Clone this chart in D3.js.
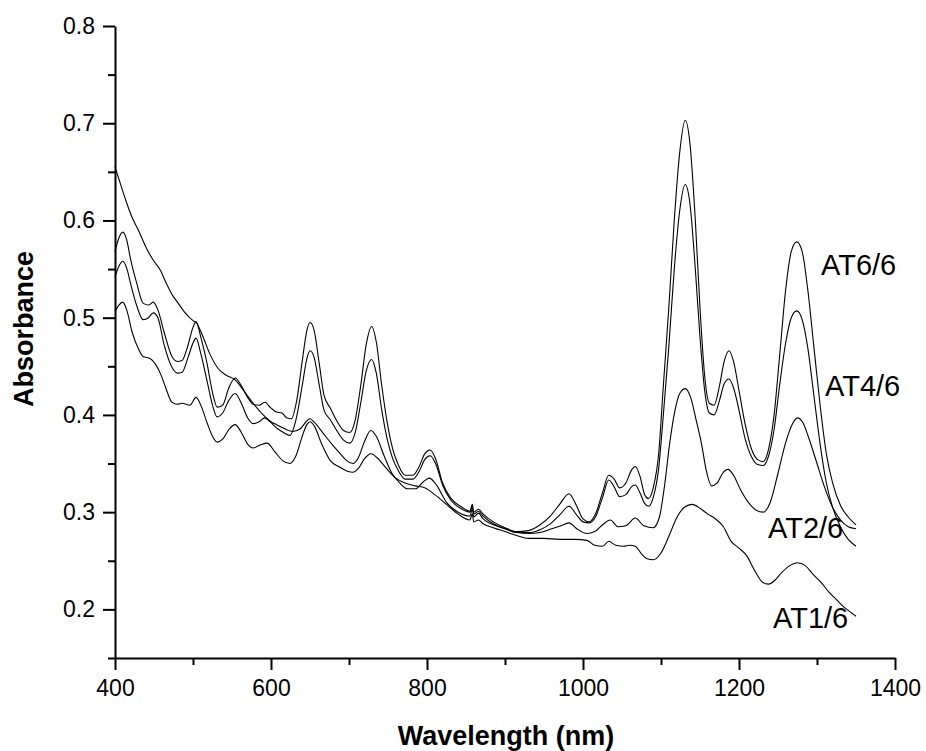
<!DOCTYPE html>
<html>
<head>
<meta charset="utf-8">
<script src="https://cdn.jsdelivr.net/npm/d3@7"></script>
<style>
  html, body { margin: 0; padding: 0; background: #fff; }
  svg { display: block; font-family: "Liberation Sans", Arial, sans-serif; }
</style>
</head>
<body>
<svg id="chart" width="926" height="751"></svg>
<script>
// ---------- DATA ----------
const xTicksMajor = [400, 600, 800, 1000, 1200, 1400];
const xTicksMinor = [500, 700, 900, 1100, 1300];
const yTicksMajor = [0.2, 0.3, 0.4, 0.5, 0.6, 0.7, 0.8];
const yTicksMinor = [0.15, 0.25, 0.35, 0.45, 0.55, 0.65, 0.75];
const seriesNames = ["AT6/6", "AT4/6", "AT2/6", "AT1/6"];

const wlAT6 = [400,405,410,415,420,428,436,443,449,455,463,473,480,486,493,500,504,510,518,525,531,538,546,554,562,570,577,585,592,600,607,614,620,626,633,640,646,650,655,662,668,676,685,693,701,708,715,722,729,735,742,749,756,763,772,782,790,797,804,811,820,830,845,855,858,860,866,872,885,900,915,930,945,958,970,982,992,1000,1008,1016,1025,1033,1040,1047,1055,1062,1067,1073,1079,1084,1090,1097,1103,1110,1117,1124,1131,1137,1144,1150,1156,1162,1168,1175,1181,1187,1193,1200,1208,1216,1224,1231,1238,1245,1252,1260,1267,1274,1281,1288,1296,1304,1312,1320,1330,1340,1350];
const absAT6 = [0.568,0.582,0.588,0.58,0.56,0.535,0.515,0.513,0.516,0.508,0.485,0.46,0.455,0.456,0.47,0.49,0.496,0.48,0.453,0.423,0.408,0.41,0.428,0.438,0.43,0.418,0.411,0.41,0.413,0.407,0.403,0.402,0.397,0.396,0.415,0.455,0.487,0.495,0.488,0.452,0.42,0.407,0.393,0.384,0.382,0.395,0.43,0.472,0.491,0.475,0.43,0.392,0.365,0.349,0.338,0.338,0.347,0.36,0.364,0.355,0.33,0.315,0.305,0.301,0.308,0.3,0.303,0.298,0.29,0.284,0.28,0.281,0.287,0.296,0.308,0.319,0.306,0.293,0.29,0.298,0.32,0.338,0.334,0.325,0.33,0.343,0.347,0.337,0.318,0.314,0.325,0.36,0.43,0.51,0.6,0.67,0.703,0.68,0.6,0.51,0.44,0.412,0.41,0.43,0.455,0.466,0.455,0.425,0.39,0.365,0.354,0.352,0.365,0.4,0.46,0.53,0.568,0.578,0.568,0.53,0.47,0.41,0.36,0.33,0.307,0.295,0.287];

const wlAT4 = [400,405,410,415,420,428,436,443,449,455,463,473,480,486,494,500,504,510,518,525,531,538,546,554,562,570,577,585,592,600,608,616,624,632,640,646,650,655,662,668,676,685,693,701,708,715,722,729,735,742,749,756,763,772,782,790,797,804,811,820,830,845,855,858,860,866,872,885,900,915,930,945,958,970,982,992,1000,1008,1016,1025,1033,1040,1047,1055,1062,1067,1073,1079,1084,1090,1097,1103,1110,1117,1124,1131,1137,1144,1150,1156,1162,1168,1175,1181,1187,1193,1200,1208,1216,1224,1231,1238,1245,1252,1260,1267,1274,1281,1288,1296,1304,1312,1320,1330,1340,1350];
const absAT4 = [0.542,0.553,0.558,0.551,0.535,0.512,0.498,0.5,0.505,0.5,0.472,0.449,0.443,0.444,0.46,0.474,0.479,0.463,0.435,0.41,0.398,0.402,0.415,0.422,0.412,0.397,0.391,0.393,0.397,0.392,0.386,0.382,0.379,0.395,0.43,0.458,0.466,0.46,0.43,0.405,0.395,0.383,0.374,0.371,0.382,0.412,0.445,0.457,0.443,0.405,0.375,0.355,0.343,0.334,0.334,0.342,0.354,0.358,0.35,0.328,0.313,0.303,0.3,0.306,0.298,0.301,0.296,0.288,0.283,0.279,0.279,0.282,0.288,0.297,0.306,0.297,0.29,0.289,0.295,0.315,0.333,0.326,0.316,0.318,0.326,0.328,0.32,0.309,0.306,0.315,0.345,0.4,0.47,0.55,0.61,0.637,0.618,0.55,0.48,0.425,0.402,0.4,0.415,0.432,0.437,0.428,0.405,0.375,0.357,0.349,0.348,0.358,0.385,0.43,0.475,0.5,0.507,0.498,0.47,0.42,0.37,0.33,0.305,0.285,0.272,0.265];

const wlAT2 = [400,408,415,422,430,440,450,458,466,473,480,490,500,505,512,522,532,542,554,565,577,590,600,607,617,628,638,645,650,656,667,678,689,697,705,712,720,728,735,745,755,765,775,785,795,803,812,825,840,855,858,860,866,872,885,900,915,930,945,960,972,982,992,1005,1015,1025,1035,1045,1055,1067,1078,1090,1098,1105,1111,1118,1124,1131,1138,1145,1152,1158,1165,1172,1179,1186,1193,1202,1212,1222,1231,1240,1250,1260,1268,1275,1282,1290,1300,1310,1320,1330,1340,1350];
const absAT2 = [0.655,0.635,0.618,0.603,0.59,0.572,0.558,0.549,0.535,0.524,0.516,0.505,0.497,0.494,0.482,0.462,0.448,0.441,0.436,0.425,0.412,0.4,0.393,0.39,0.386,0.383,0.386,0.393,0.396,0.392,0.381,0.37,0.36,0.353,0.35,0.356,0.373,0.384,0.378,0.358,0.34,0.33,0.324,0.324,0.331,0.335,0.328,0.31,0.3,0.296,0.303,0.295,0.299,0.293,0.287,0.283,0.279,0.278,0.279,0.283,0.286,0.289,0.283,0.278,0.28,0.287,0.292,0.285,0.286,0.294,0.286,0.284,0.295,0.33,0.37,0.405,0.422,0.427,0.418,0.395,0.37,0.343,0.327,0.33,0.34,0.344,0.338,0.323,0.31,0.302,0.3,0.31,0.34,0.372,0.39,0.397,0.392,0.375,0.35,0.325,0.305,0.292,0.285,0.283];

const wlAT1 = [400,405,410,415,422,430,436,445,452,458,465,473,480,486,496,504,511,518,525,531,538,546,554,562,570,577,586,595,605,615,624,632,640,646,650,656,665,676,689,698,705,712,720,728,736,748,760,772,785,797,810,825,840,855,858,860,866,872,885,900,915,930,950,970,990,1005,1015,1025,1033,1042,1052,1060,1067,1075,1082,1090,1100,1110,1120,1130,1140,1150,1160,1170,1180,1190,1200,1210,1220,1230,1238,1246,1255,1265,1275,1285,1295,1305,1315,1325,1335,1345,1350];
const absAT1 = [0.506,0.513,0.516,0.508,0.485,0.468,0.46,0.458,0.452,0.443,0.428,0.413,0.411,0.412,0.41,0.418,0.408,0.392,0.378,0.372,0.375,0.385,0.39,0.382,0.37,0.366,0.369,0.371,0.362,0.353,0.35,0.358,0.378,0.39,0.393,0.388,0.37,0.353,0.346,0.342,0.341,0.345,0.355,0.36,0.356,0.345,0.335,0.33,0.327,0.325,0.318,0.308,0.298,0.292,0.298,0.29,0.292,0.288,0.284,0.28,0.276,0.273,0.273,0.272,0.272,0.271,0.266,0.265,0.27,0.266,0.265,0.266,0.265,0.257,0.252,0.251,0.258,0.275,0.294,0.305,0.308,0.304,0.298,0.293,0.285,0.27,0.263,0.255,0.24,0.228,0.226,0.23,0.238,0.245,0.248,0.245,0.236,0.228,0.218,0.21,0.202,0.196,0.193];

// ---------- CHART ----------
const svg = d3.select("#chart");
const x = d3.scaleLinear().domain([400, 1400]).range([115, 895]);
const y = d3.scaleLinear().domain([0.15, 0.8]).range([658, 26]);

const series = [
  { name: seriesNames[0], wl: wlAT6, ab: absAT6 },
  { name: seriesNames[1], wl: wlAT4, ab: absAT4 },
  { name: seriesNames[2], wl: wlAT2, ab: absAT2 },
  { name: seriesNames[3], wl: wlAT1, ab: absAT1 }
];

const line = d3.line()
  .x(d => x(d[0]))
  .y(d => y(d[1]))
  .curve(d3.curveMonotoneX);

svg.append("g").selectAll("path")
  .data(series)
  .join("path")
  .attr("d", s => line(s.wl.map((w, i) => [w, s.ab[i]])))
  .attr("fill", "none")
  .attr("stroke", "#000")
  .attr("stroke-width", 1.1);

// minor ticks
svg.append("g")
  .attr("transform", "translate(0,658)")
  .call(d3.axisBottom(x).tickValues(xTicksMinor).tickSize(7).tickFormat(""))
  .call(g => g.select(".domain").remove())
  .call(g => g.selectAll("line").attr("stroke-width", 2));
svg.append("g")
  .attr("transform", "translate(115,0)")
  .call(d3.axisLeft(y).tickValues(yTicksMinor).tickSize(7).tickFormat(""))
  .call(g => g.select(".domain").remove())
  .call(g => g.selectAll("line").attr("stroke-width", 2));

// major axes
const xAxis = svg.append("g")
  .attr("transform", "translate(0,658)")
  .call(d3.axisBottom(x).tickValues(xTicksMajor).tickSize(12).tickSizeOuter(0).tickPadding(10).tickFormat(d3.format("d")));
const yAxis = svg.append("g")
  .attr("transform", "translate(115,0)")
  .call(d3.axisLeft(y).tickValues(yTicksMajor).tickSize(12).tickSizeOuter(0).tickPadding(8).tickFormat(d3.format(".1f")));

[xAxis, yAxis].forEach(g => {
  g.select(".domain").attr("stroke-width", 2).attr("stroke", "#000");
  g.selectAll(".tick line").attr("stroke-width", 2).attr("stroke", "#000");
  g.selectAll(".tick text").attr("font-size", 23).attr("fill", "#000")
    .attr("font-family", "'Liberation Sans', Arial, sans-serif");
});

// axis titles
svg.append("text")
  .attr("x", 506).attr("y", 745)
  .attr("text-anchor", "middle")
  .attr("font-size", 27).attr("font-weight", "bold")
  .text("Wavelength (nm)");
svg.append("text")
  .attr("transform", "translate(33,329) rotate(-90)")
  .attr("text-anchor", "middle")
  .attr("font-size", 27).attr("font-weight", "bold")
  .text("Absorbance");

// series labels
const labelPos = [
  { name: seriesNames[0], x: 821, y: 275 },
  { name: seriesNames[1], x: 825, y: 396 },
  { name: seriesNames[2], x: 768, y: 538 },
  { name: seriesNames[3], x: 773, y: 628 }
];
svg.append("g").selectAll("text")
  .data(labelPos)
  .join("text")
  .attr("x", d => d.x).attr("y", d => d.y)
  .attr("font-size", 29)
  .text(d => d.name);
</script>
</body>
</html>
